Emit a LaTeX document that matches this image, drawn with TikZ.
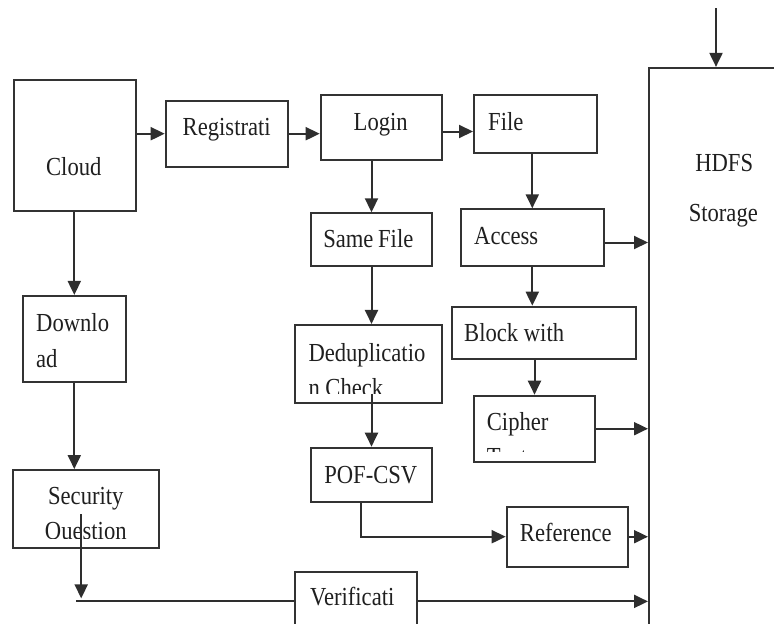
\documentclass[tikz,border=0pt]{standalone}
\usepackage{fontspec}
\setmainfont[FakeStretch=0.87]{Liberation Serif}
\usepackage{xcolor}
\usetikzlibrary{arrows.meta,calc}

\begin{document}
\begin{tikzpicture}[x=1pt,y=-1pt,
		blk/.style={draw=black!80, line width=2pt, inner sep=0pt, rectangle},
		txt/.style={inner sep=0pt, text=black!88, font=\fontsize{26}{35}\selectfont},
		arr/.style={draw=black!82, line width=2pt, -{Triangle[length=14pt 0 0,width=13pt 0 0]}},
		ln/.style={draw=black!82, line width=2pt}]
		\useasboundingbox (0,0) rectangle (774,624);
		\clip (0,0) rectangle (774,624);
		\node[blk, minimum width=122pt, minimum height=131pt] (cloud) at (75,145.3) {};
		\node[blk, minimum width=122pt, minimum height=66pt] (reg) at (226.7,133.7) {};
		\node[blk, minimum width=121pt, minimum height=65pt] (login) at (381.2,127.5) {};
		\node[blk, minimum width=123pt, minimum height=58pt] (file) at (535.5,124) {};
		\node[blk, minimum width=151pt, minimum height=592pt] (hdfs) at (724.5,363.9) {};
		\node[blk, minimum width=121.6pt, minimum height=52.4pt] (same) at (371.5,239.5) {};
		\node[blk, minimum width=143.3pt, minimum height=56.4pt] (access) at (532.3,237.5) {};
		\node[blk, minimum width=103.3pt, minimum height=85.7pt] (download) at (74.3,338.8) {};
		\node[blk, minimum width=147.3pt, minimum height=77.7pt] (dedup) at (368.7,363.8) {};
		\node[blk, minimum width=184pt, minimum height=52.6pt] (block) at (543.7,333) {};
		\node[blk, minimum width=121pt, minimum height=66pt] (cipher) at (534.5,428.7) {};
		\node[blk, minimum width=121.6pt, minimum height=54.6pt] (pof) at (371.5,475) {};
		\node[blk, minimum width=121.6pt, minimum height=60pt] (ref) at (567.5,536.7) {};
		\node[blk, minimum width=145.7pt, minimum height=78.3pt] (sec) at (86.2,509.2) {};
		\node[blk, minimum width=121.7pt, minimum height=59.3pt] (verif) at (355.8,601.4) {};

		\node[txt, anchor=base] (cloudtxt) at (73.8,175) {Cloud};
		\node[txt, anchor=base] (regtxt) at (226.7,135) {Registrati};
		\node[txt, anchor=base] (logintxt) at (380.7,130) {Login};
		\node[txt, anchor=base west] (filetxt) at (488,130) {File};
		\node[txt, anchor=base] (sametxt) at (368.3,247.3) {Same\kern-1pt\ File};
		\node[txt, anchor=base west] (accesstxt) at (474,244.3) {Access};
		\node[txt, anchor=base west] (dltxta) at (36,331.7) {Downlo};
		\node[txt, anchor=base west] (dltxtb) at (36,367.3) {ad};
		\node[txt, anchor=base west] (blocktxt) at (464,341) {Block with};
		\node[txt, anchor=base west] (deduptxta) at (308.3,361.7) {Deduplicatio};
		\begin{scope}
			\clip (dedup.north west) rectangle ($(dedup.south east)+(0,-10)$);
			\node[txt, anchor=base west] (deduptxtb) at (308.3,396.7) {n Check};
		\end{scope}
		\node[txt, anchor=base west] (ciphertxta) at (486.7,430) {Cipher};
		\begin{scope}
			\clip (cipher.north west) rectangle ($(cipher.south east)+(0,-11)$);
			\node[txt, anchor=base west] (ciphertxtb) at (486.7,465) {Text};
		\end{scope}
		\node[txt, anchor=base] (poftxt) at (370.8,483.3) {POF-CSV};
		\node[txt, anchor=base] (reftxt) at (565.8,541.7) {Reference};
		\node[txt, anchor=base] (sectxta) at (85.8,504) {Security};
		\begin{scope}
			\clip (sec.north west) rectangle ($(sec.south east)+(0,-11)$);
			\node[txt, anchor=base] (sectxtb) at (85.8,539) {Question};
		\end{scope}
		\node[txt, anchor=base west] (veriftxt) at (310,605) {Verificati};
		\node[txt, anchor=base] (hdfstxta) at (724.2,171.7) {HDFS};
		\node[txt, anchor=base] (hdfstxtb) at (723.3,221.7) {Storage};

		\coordinate (hdfsin) at (716,8);
		\coordinate (secjoin) at ($(sec.south |- verif.west)+(-5,0)$);
		\draw[arr] (hdfsin) -- (hdfsin |- hdfs.north);
		\draw[arr] (cloud.east |- reg.west) -- (reg.west);
		\draw[arr] (reg.east) -- (reg.east -| login.west);
		\draw[arr] ($(login.east)+(0,4)$) -- ($(login.east -| file.west)+(0,4)$);
		\draw[arr] (same.north |- login.south) -- (same.north);
		\draw[arr] (access.north |- file.south) -- (access.north);
		\draw[arr] ($(access.east)+(0,5)$) -- ($(access.east -| hdfs.west)+(0,5)$);
		\draw[arr] (access.south) -- (access.south |- block.north);
		\draw[arr] (cipher.north |- block.south) -- (cipher.north);
		\draw[arr] (cipher.east) -- (cipher.east -| hdfs.west);
		\draw[arr] (same.south) -- (same.south |- dedup.north);
		\draw[arr] ($(pof.north |- dedup.south)+(0,-10)$) -- (pof.north);
		\draw[arr] ($(pof.south)+(-11,0)$) |- (ref.west);
		\draw[arr] (ref.east) -- (ref.east -| hdfs.west);
		\draw[arr] (download.north |- cloud.south) -- (download.north);
		\draw[arr] (download.south) -- (download.south |- sec.north);
		\draw[arr] ($(sec.south)+(-5,-35)$) -- ($(secjoin)+(0,-3)$);
		\draw[ln] ($(secjoin)+(-5,0)$) -- (verif.west);
		\draw[arr] (verif.east) -- (verif.east -| hdfs.west);
\end{tikzpicture}
\end{document}
